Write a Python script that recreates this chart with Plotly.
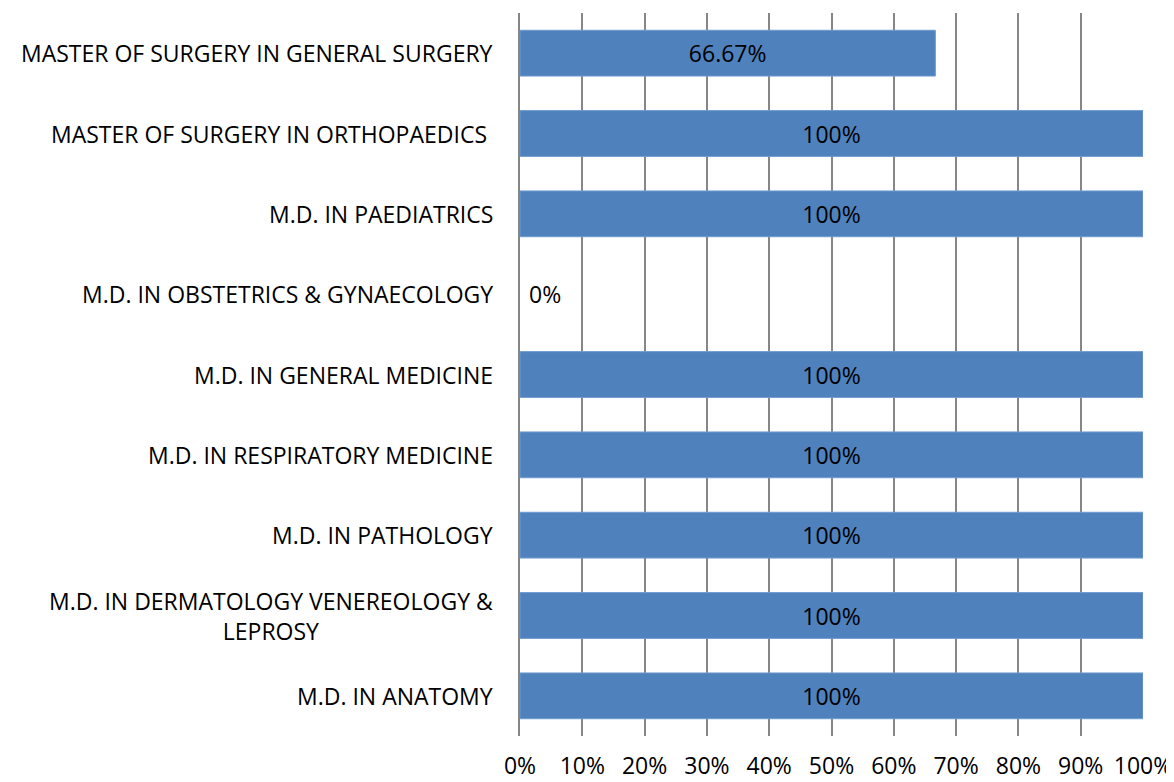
import plotly.graph_objects as go

categories = [
    "MASTER OF SURGERY IN GENERAL SURGERY",
    "MASTER OF SURGERY IN ORTHOPAEDICS ",
    "M.D. IN PAEDIATRICS",
    "M.D. IN OBSTETRICS & GYNAECOLOGY",
    "M.D. IN GENERAL MEDICINE",
    "M.D. IN RESPIRATORY MEDICINE",
    "M.D. IN PATHOLOGY",
    "M.D. IN DERMATOLOGY VENEREOLOGY &<br>LEPROSY",
    "M.D. IN ANATOMY",
]
values = [66.67, 100, 100, 0, 100, 100, 100, 100, 100]
value_labels = ["66.67%", "100%", "100%", "0%", "100%", "100%", "100%", "100%", "100%"]
tick_vals = [0, 10, 20, 30, 40, 50, 60, 70, 80, 90, 100]
tick_text = ["0%", "10%", "20%", "30%", "40%", "50%", "60%", "70%", "80%", "90%", "100%"]

FONT = "Open Sans"
FS = 23
fig = go.Figure()
fig.add_trace(go.Bar(
    y=categories,
    x=values,
    orientation="h",
    marker=dict(color="#4F81BD",
                line=dict(color="#6F9BD0", width=[1 if v > 0 else 0 for v in values])),
    text=[t if v > 0 else "\u00a0" + t for t, v in zip(value_labels, values)],
    textposition=["inside" if v > 0 else "outside" for v in values],
    insidetextanchor="middle",
    textangle=0,
    constraintext="none",
    cliponaxis=False,
    textfont=dict(family=FONT, size=FS, color="black"),
    hoverinfo="skip",
))

annotations = []
for c in categories:
    annotations.append(dict(
        x=0, xref="paper", y=c, yref="y",
        text=c, showarrow=False, xanchor="right", yanchor="middle",
        align="center", xshift=-25,
        font=dict(family=FONT, size=FS, color="black"),
    ))

# the page body adds an 8px offset, so the figure is 8px smaller than the window
fig.update_layout(
    width=1166, height=774,
    margin=dict(l=512, r=31, t=5, b=46, autoexpand=False),
    paper_bgcolor="white", plot_bgcolor="white",
    bargap=0.43,
    showlegend=False,
    annotations=annotations,
    xaxis=dict(
        range=[0, 100], tickvals=tick_vals, ticktext=tick_text,
        showgrid=True, gridcolor="#868686", gridwidth=1.5,
        zeroline=False, showline=False, ticks="",
        tickfont=dict(family=FONT, size=FS, color="black"),
        ticklabelstandoff=14, automargin=False,
        fixedrange=True,
    ),
    yaxis=dict(
        autorange="reversed", showticklabels=False, showgrid=False,
        zeroline=False, showline=True, linecolor="#868686", linewidth=1.5,
        ticks="", automargin=False,
    ),
)

fig.write_html("out.html")
